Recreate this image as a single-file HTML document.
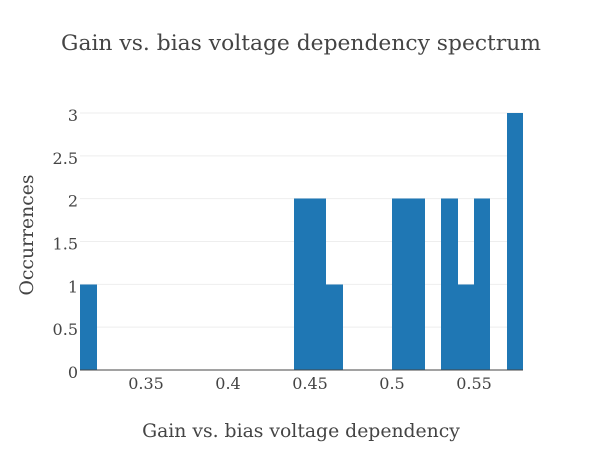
<!DOCTYPE html>
<html><head><meta charset="utf-8"><style>
html,body{margin:0;padding:0;background:#fff;}
svg text{font-family:"DejaVu Serif","Liberation Serif",serif;fill:#444;}
</style></head><body>
<svg id="chart" width="602" height="450" viewBox="0 0 602 450" xmlns="http://www.w3.org/2000/svg">
<rect width="602" height="450" fill="#fff"/>
<text x="301" y="50" text-anchor="middle" font-size="21.8">Gain vs. bias voltage dependency spectrum</text>
<g id="grid"></g>
<g id="bars" shape-rendering="crispEdges"></g>
<g id="yticks"></g>
<g id="xticks"></g>
<line x1="80" y1="370" x2="523" y2="370" stroke="#444" stroke-width="1"/>
<text x="301" y="437" text-anchor="middle" font-size="18.8">Gain vs. bias voltage dependency</text>
<text x="33" y="235" text-anchor="middle" font-size="18.8" transform="rotate(-90 33 235)">Occurrences</text>
</svg>
<script>
const binStarts = [0.31,0.32,0.33,0.34,0.35,0.36,0.37,0.38,0.39,0.40,0.41,0.42,0.43,0.44,0.45,0.46,0.47,0.48,0.49,0.50,0.51,0.52,0.53,0.54,0.55,0.56,0.57];
const counts    = [1,0,0,0,0,0,0,0,0,0,0,0,0,2,2,1,0,0,0,2,2,0,2,1,2,0,3];
const binWidth = 0.01;
const xTicks = [0.35,0.4,0.45,0.5,0.55];
const xTickLabels = ["0.35","0.4","0.45","0.5","0.55"];
const yTicks = [0,0.5,1,1.5,2,2.5,3];
const yTickLabels = ["0","0.5","1","1.5","2","2.5","3"];

const NS="http://www.w3.org/2000/svg";
function xs(v){return 146+(v-0.35)*(474-146)/0.2;}
function ys(v){return 370-v*(370-113)/3;}
function mk(tag,attrs,parent){const e=document.createElementNS(NS,tag);for(const k in attrs)e.setAttribute(k,attrs[k]);parent.appendChild(e);return e;}
const grid=document.getElementById('grid'),bars=document.getElementById('bars'),yt=document.getElementById('yticks'),xt=document.getElementById('xticks');
yTicks.forEach((t,i)=>{
  if(t>0){const l=mk('line',{x1:80,x2:523,y1:ys(t),y2:ys(t),stroke:'#eee','stroke-width':1},grid);
  
  }
  const tx=mk('text',{x:78,y:ys(t)+8,'text-anchor':'end','font-size':16},yt);
  tx.textContent=yTickLabels[i];
  
  
});
xTicks.forEach((t,i)=>{
  const tx=mk('text',{x:xs(t),y:389,'text-anchor':'middle','font-size':16},xt);
  tx.textContent=xTickLabels[i];
  
  
});
binStarts.forEach((b,i)=>{
  if(counts[i]<=0)return;
  const x0=Math.round(xs(b)),x1=Math.round(xs(b+binWidth));
  const r=mk('rect',{x:x0,y:ys(counts[i]),width:x1-x0,height:ys(0)-ys(counts[i]),fill:'#1f77b4'},bars);
  
  
});
</script>
</body></html>
